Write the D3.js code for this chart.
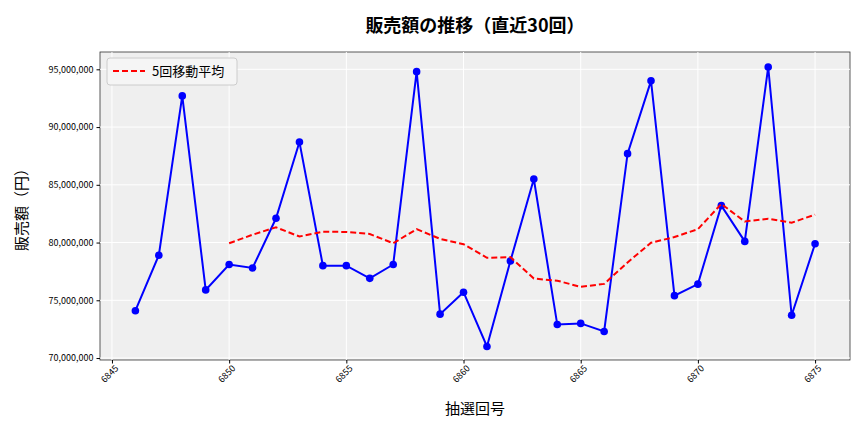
<!DOCTYPE html>
<html><head><meta charset="utf-8">
<script src="https://d3js.org/d3.v7.min.js"></script>
<style>body{margin:0;background:#fff}text{font-family:"Noto Sans CJK JP","Noto Sans",sans-serif}</style>
</head><body><svg id="c" width="864" height="432"></svg>
<script>
const draws=d3.range(6846,6876);
const sales=[74.1,78.9,92.7,75.9,78.1,77.8,82.1,88.7,78.0,78.0,76.9,78.1,94.8,73.8,75.7,71.0,78.4,85.5,72.9,73.0,72.3,87.7,94.0,75.4,76.4,83.2,80.1,95.2,73.7,79.9].map(v=>v*1e6);
const xTicks=[6845,6850,6855,6860,6865,6870,6875];
const yTicks=[70,75,80,85,90,95].map(v=>v*1e6);
const ma=sales.map((v,i)=>i<4?null:d3.mean(sales.slice(i-4,i+1)));
const svg=d3.select("#c");
const L=100,R=850,T=52,B=360;
const x=d3.scaleLinear().domain([6844.49,6876.49]).range([L,R]);
const y=d3.scaleLinear().domain([69.83e6,96.5e6]).range([B,T]);
svg.append("rect").attr("x",L).attr("y",T).attr("width",R-L).attr("height",B-T).attr("fill","#efefef").attr("stroke","#333").attr("stroke-width",0.8);
const g=svg.append("g");
xTicks.forEach(t=>g.append("line").attr("x1",x(t)).attr("x2",x(t)).attr("y1",T).attr("y2",B).attr("stroke","#fff").attr("stroke-width",1));
yTicks.forEach(t=>g.append("line").attr("x1",L).attr("x2",R).attr("y1",y(t)).attr("y2",y(t)).attr("stroke","#fff").attr("stroke-width",1));
const xa=svg.append("g").attr("transform",`translate(0,${B})`).call(d3.axisBottom(x).tickValues(xTicks).tickFormat(d3.format("d")).tickSize(3.5));
xa.selectAll("text").attr("transform","rotate(-45)").attr("text-anchor","end").attr("dx","-0.2em").attr("dy","0.5em").style("font-size","9px");
const ya=svg.append("g").attr("transform",`translate(${L},0)`).call(d3.axisLeft(y).tickValues(yTicks).tickFormat(d3.format(",")).tickSize(3.5));
ya.selectAll("text").style("font-size","9px");
svg.selectAll(".domain").remove();
svg.append("path").datum(sales).attr("fill","none").attr("stroke","#0000ff").attr("stroke-width",2)
 .attr("d",d3.line().x((d,i)=>x(draws[i])).y(d=>y(d)));
svg.selectAll("circle").data(sales).join("circle").attr("cx",(d,i)=>x(draws[i])).attr("cy",d=>y(d)).attr("r",3.8).attr("fill","#0000ff");
svg.append("path").datum(ma).attr("fill","none").attr("stroke","#ff0000").attr("stroke-width",2).attr("stroke-dasharray","6,3")
 .attr("d",d3.line().defined(d=>d!=null).x((d,i)=>x(draws[i])).y(d=>y(d)));
svg.append("rect").attr("x",107).attr("y",58).attr("width",130).attr("height",27).attr("rx",3).attr("fill","#f5f5f5").attr("stroke","#ccc");
svg.append("line").attr("x1",113).attr("x2",145).attr("y1",71).attr("y2",71).attr("stroke","#ff0000").attr("stroke-width",2).attr("stroke-dasharray","6,3");
svg.append("text").attr("x",152).attr("y",76).style("font-size","13px").text("5回移動平均");
svg.append("text").attr("x",(L+R)/2).attr("y",32).attr("text-anchor","middle").style("font-size","18px").style("font-weight","bold").text("販売額の推移（直近30回）");
svg.append("text").attr("x",(L+R)/2).attr("y",414).attr("text-anchor","middle").style("font-size","15px").text("抽選回号");
svg.append("text").attr("transform",`translate(27,${(T+B)/2}) rotate(-90)`).attr("text-anchor","middle").style("font-size","15px").text("販売額（円）");
</script></body></html>
